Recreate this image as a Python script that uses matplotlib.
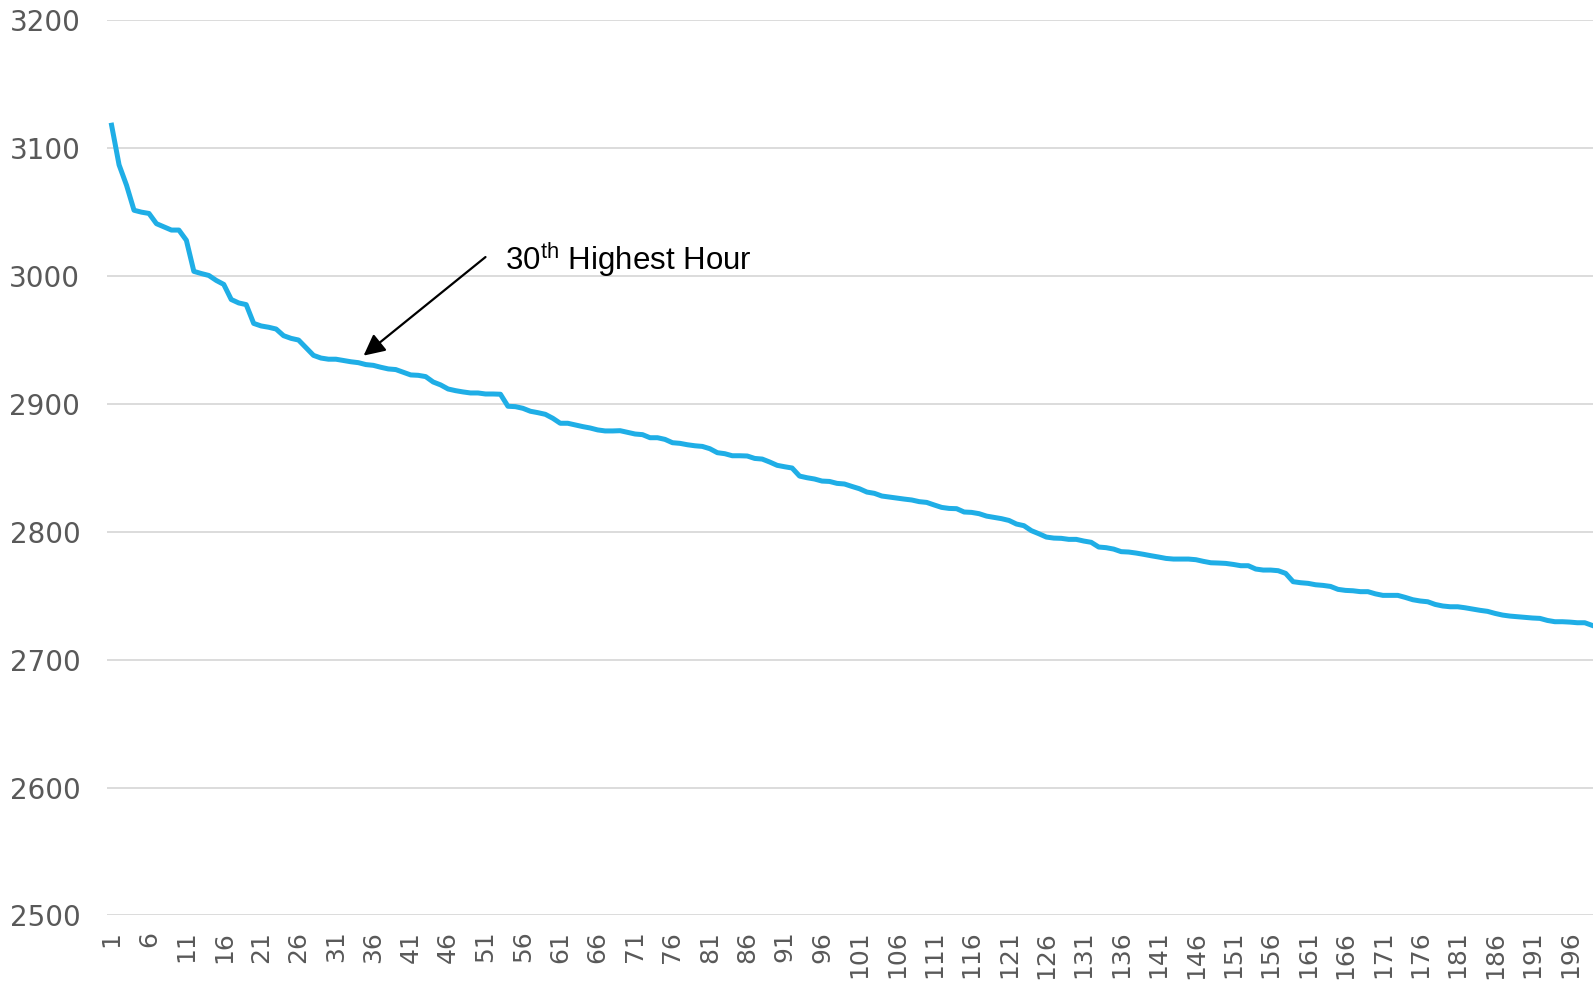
import numpy as np
import matplotlib
matplotlib.use('Agg')
import matplotlib.pyplot as plt

# hourly load sorted from highest to lowest (first 199 hours)
load = [
    3118, 3087, 3071, 3051.5, 3050, 3049, 3041, 3038.5, 3036, 3036,
    3028, 3003.7, 3002, 3000.5, 2996.6, 2993.5, 2981.7, 2979, 2977.7, 2963,
    2961, 2960, 2958.6, 2953.4, 2951.3, 2950, 2944, 2938, 2935.9, 2935,
    2935, 2934, 2933, 2932.3, 2930.8, 2930.2, 2928.7, 2927.4, 2926.9, 2924.8,
    2922.7, 2922.4, 2921.4, 2917.2, 2914.9, 2911.7, 2910.4, 2909.4, 2908.6, 2908.6,
    2907.8, 2907.8, 2907.6, 2898.2, 2897.9, 2896.6, 2894.3, 2893.2, 2891.9, 2888.8,
    2884.9, 2884.9, 2883.6, 2882.3, 2881.2, 2879.7, 2878.9, 2878.9, 2879.1, 2877.8,
    2876.5, 2876.0, 2873.6, 2873.6, 2872.3, 2869.7, 2869.2, 2868.1, 2867.3, 2866.8,
    2865, 2861.9, 2861.1, 2859.5, 2859.5, 2859.3, 2857.4, 2856.9, 2854.6, 2852,
    2850.9, 2849.9, 2843.6, 2842.3, 2841.3, 2839.7, 2839.4, 2837.9, 2837.4, 2835.5,
    2833.7, 2831.1, 2830.1, 2828, 2827.2, 2826.4, 2825.6, 2824.9, 2823.6, 2823,
    2821, 2819.1, 2818.3, 2818.1, 2815.5, 2815.2, 2814.2, 2812.3, 2811.3, 2810.3,
    2808.9, 2806.1, 2804.8, 2800.9, 2798.5, 2795.9, 2795.1, 2794.9, 2794.1, 2794.1,
    2792.8, 2791.8, 2788.1, 2787.6, 2786.5, 2784.5, 2784.2, 2783.4, 2782.4, 2781.3,
    2780.3, 2779.2, 2778.7, 2778.7, 2778.7, 2778.2, 2776.9, 2775.8, 2775.6, 2775.3,
    2774.5, 2773.5, 2773.5, 2770.9, 2770.1, 2770.1, 2769.6, 2767.5, 2761, 2760.2,
    2759.7, 2758.6, 2758.1, 2757.3, 2755, 2754.2, 2753.9, 2753.2, 2753.2, 2751.5,
    2750.3, 2750.3, 2750.3, 2748.7, 2746.9, 2745.9, 2745.3, 2743.2, 2742, 2741.4,
    2741.4, 2740.6, 2739.6, 2738.6, 2737.8, 2736.2, 2734.9, 2734.1, 2733.6, 2733.1,
    2732.6, 2732.3, 2730.7, 2729.7, 2729.7, 2729.4, 2728.9, 2728.9, 2726.8,
]
hours = np.arange(1, len(load) + 1)
xtick_hours = list(range(1, 200, 5))
yticks = list(range(2500, 3201, 100))

note_text = "30$^{\\mathrm{th}}$ Highest Hour"
note_tip = (34.7, 2937.8)
note_tail = (51.0, 3014.9)

plt.rcParams['mathtext.fontset'] = 'custom'
plt.rcParams['mathtext.rm'] = 'Liberation Sans'

fig = plt.figure(figsize=(15.93, 9.84), dpi=100)
ax = fig.add_axes([0.067, 0.0697, 0.933, 0.9096])

ax.plot(hours, load, color='#1FAEE6', lw=3.6, solid_joinstyle='round', zorder=3)

ax.set_xlim(0.35, 199.1)
ax.set_ylim(2500, 3200)
ax.set_yticks(yticks)
ax.set_xticks(xtick_hours)
ax.set_xticklabels([str(h) for h in xtick_hours], rotation=90)
ax.grid(axis='y', color='#D9D9D9', lw=1.3)
ax.set_axisbelow(True)
for s in ax.spines.values():
    s.set_visible(False)
ax.tick_params(axis='both', length=0, colors='#595959')
ax.tick_params(axis='y', pad=19, labelsize=20)
ax.tick_params(axis='x', pad=11, labelsize=18)

# annotation for the 30th highest hour
ax.annotate('', xy=note_tip, xytext=note_tail,
            arrowprops=dict(arrowstyle='-|>', color='black', lw=1.6,
                            mutation_scale=32, shrinkA=0, shrinkB=0))
ax.text(53.6, 3004.7, note_text, fontsize=22.5, family='Liberation Sans',
        color='black', va='baseline', ha='left')

fig.savefig('out.png', dpi=100)
